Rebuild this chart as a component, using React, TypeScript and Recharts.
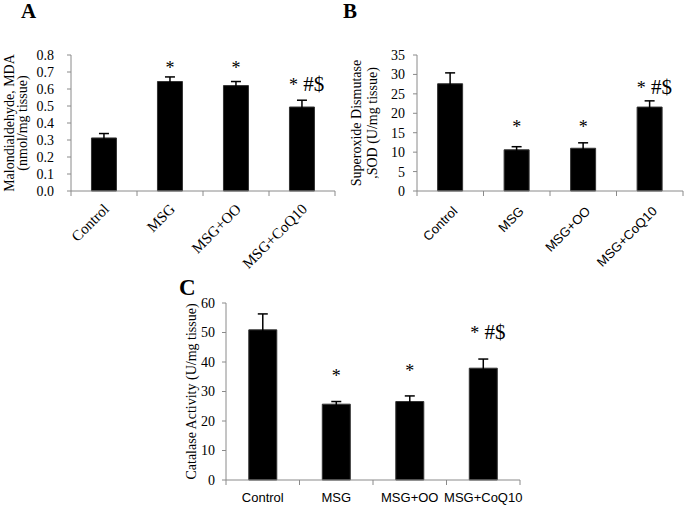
import React from 'react'
import { BarChart, Bar, XAxis, YAxis, ErrorBar, ReferenceDot } from 'recharts'

const groups = ['Control', 'MSG', 'MSG+OO', 'MSG+CoQ10']

// A: malondialdehyde (nmol/mg tissue)
const mdaMean = [0.312, 0.644, 0.62, 0.494]
const mdaSem = [0.026, 0.027, 0.024, 0.04]
// B: superoxide dismutase (U/mg tissue)
const sodMean = [27.6, 10.6, 11.0, 21.6]
const sodSem = [2.8, 0.8, 1.4, 1.6]
// C: catalase (U/mg tissue)
const catMean = [50.9, 25.7, 26.6, 37.9]
const catSem = [5.4, 0.9, 1.9, 3.1]

// significance marks, and the axis value each one sits at
const sigText = ['', '*', '*', '* #$']
const mdaSigAt = [0, 0.74, 0.74, 0.64]
const sodSigAt = [0, 17.2, 17.2, 27.3]
const catSigAt = [0, 36.2, 37.9, 51]

const mdaTicks = [0, 0.1, 0.2, 0.3, 0.4, 0.5, 0.6, 0.7, 0.8]
const sodTicks = [0, 5, 10, 15, 20, 25, 30, 35]
const catTicks = [0, 10, 20, 30, 40, 50, 60]

const SERIF = '"Liberation Serif", "Times New Roman", serif'
const SANS = '"Liberation Sans", Arial, sans-serif'
const GRAY = '#8a8a8a'

const mdaData = groups.map((g, i) => ({ name: g, mean: mdaMean[i], sem: mdaSem[i] }))
const sodData = groups.map((g, i) => ({ name: g, mean: sodMean[i], sem: sodSem[i] }))
const catData = groups.map((g, i) => ({ name: g, mean: catMean[i], sem: catSem[i] }))

function SigMark(props: any) {
  const { viewBox, text } = props
  if (!viewBox || !text) return null
  const cx = viewBox.x + viewBox.width / 2
  const cy = viewBox.y + viewBox.height / 2
  if (text === '*') {
    return (
      <text x={cx} y={cy + 9} textAnchor="middle" fontFamily={SERIF} fontSize={18} fill="#000" stroke="none">
        *
      </text>
    )
  }
  return (
    <text x={cx + 4.5} y={cy + 9} textAnchor="middle" fontFamily={SERIF} fill="#000" stroke="none">
      <tspan fontSize={18}>*</tspan>
      <tspan fontSize={21}>{' #$'}</tspan>
    </text>
  )
}

// category tick: boundary tick marks (Excel style) + label
function GroupTick(props: any) {
  const { x, y, payload, kind } = props
  const half = payload.offset || 33
  const last = payload.index === groups.length - 1
  let label
  if (kind === 'serif') {
    const px = x + 6
    const py = y + 19
    label = (
      <text x={px} y={py} transform={`rotate(-45 ${px} ${py})`} textAnchor="end" fontFamily={SERIF} fontSize={15} fill="#000">
        {payload.value}
      </text>
    )
  } else if (kind === 'sans') {
    const px = x + 8
    const py = y + 21
    label = (
      <text x={px} y={py} transform={`rotate(-45 ${px} ${py})`} textAnchor="end" fontFamily={SANS} fontSize={13} fill="#000">
        {payload.value}
      </text>
    )
  } else {
    label = (
      <text x={x} y={y + 22} textAnchor="middle" fontFamily={SANS} fontSize={13} fill="#000">
        {payload.value}
      </text>
    )
  }
  return (
    <g>
      <line x1={x - half} x2={x - half} y1={y} y2={y + 5} stroke={GRAY} />
      {last && <line x1={x + half} x2={x + half} y1={y} y2={y + 5} stroke={GRAY} />}
      {label}
    </g>
  )
}

function AxisTitle(props: any) {
  const { viewBox, lines, xs } = props
  if (!viewBox) return null
  const cy = viewBox.y + viewBox.height / 2
  return (
    <g>
      {lines.map((t: string, i: number) => (
        <text
          key={i}
          x={xs[i]}
          y={cy}
          transform={`rotate(-90 ${xs[i]} ${cy})`}
          textAnchor="middle"
          fontFamily={SERIF}
          fontSize={14}
          fill="#000"
        >
          {t}
        </text>
      ))}
    </g>
  )
}

function Panel(props: any) {
  const { data, ticks, fmt, sigAt, width, height, margin, yWidth, tickMargin, xHeight, kind, title } = props
  return (
    <BarChart width={width} height={height} data={data} margin={margin} barCategoryGap="31%">
      <XAxis
        dataKey="name"
        height={xHeight}
        axisLine={{ stroke: GRAY }}
        tickLine={false}
        tickSize={0}
        tickMargin={0}
        interval={0}
        tick={<GroupTick kind={kind} />}
      />
      <YAxis
        width={yWidth}
        domain={[ticks[0], ticks[ticks.length - 1]]}
        ticks={ticks}
        interval={0}
        tickFormatter={fmt}
        axisLine={{ stroke: GRAY }}
        tickLine={{ stroke: GRAY }}
        tickSize={4}
        tickMargin={tickMargin}
        tick={{ fontFamily: SERIF, fontSize: 14, fill: '#000' }}
        label={<AxisTitle lines={title.lines} xs={title.xs} />}
      />
      <Bar dataKey="mean" fill="#000" stroke="#333" isAnimationActive={false}>
        <ErrorBar dataKey="sem" width={5} stroke="#000" strokeWidth={1.5} direction="y" />
      </Bar>
      {groups.map((g, i) =>
        sigText[i] ? (
          <ReferenceDot key={g} x={g} y={sigAt[i]} r={0} fill="none" stroke="none" label={<SigMark text={sigText[i]} />} />
        ) : null
      )}
    </BarChart>
  )
}

export default function App() {
  return (
    <div style={{ position: 'absolute', left: 0, top: 0, width: 685, height: 505, background: '#fff', overflow: 'hidden' }}>
      <div style={{ position: 'absolute', left: 0, top: 0 }}>
        <Panel
          data={mdaData}
          ticks={mdaTicks}
          fmt={(v: number) => v.toFixed(1)}
          sigAt={mdaSigAt}
          width={340}
          height={285}
          margin={{ top: 55, right: 5, bottom: 25, left: 0 }}
          yWidth={71}
          tickMargin={13}
          xHeight={69}
          kind="serif"
          title={{ lines: ['Malondialdehyde, MDA', '(nmol/mg tissue)'], xs: [14, 27] }}
        />
      </div>
      <div style={{ position: 'absolute', left: 340, top: 0 }}>
        <Panel
          data={sodData}
          ticks={sodTicks}
          fmt={(v: number) => String(v)}
          sigAt={sodSigAt}
          width={345}
          height={285}
          margin={{ top: 55, right: 2, bottom: 25, left: 0 }}
          yWidth={77}
          tickMargin={8}
          xHeight={69}
          kind="sans"
          title={{ lines: ['Superoxide Dismutase', ',SOD (U/mg tissue)'], xs: [21, 37] }}
        />
      </div>
      <div style={{ position: 'absolute', left: 170, top: 270 }}>
        <Panel
          data={catData}
          ticks={catTicks}
          fmt={(v: number) => String(v)}
          sigAt={catSigAt}
          width={360}
          height={235}
          margin={{ top: 33, right: 10, bottom: 0, left: 0 }}
          yWidth={56}
          tickMargin={7}
          xHeight={25}
          kind="flat"
          title={{ lines: ['Catalase Activity (U/mg tissue)'], xs: [26] }}
        />
      </div>
      <svg width={685} height={505} style={{ position: 'absolute', left: 0, top: 0, pointerEvents: 'none' }}>
        <text x={21} y={18} fontFamily={SERIF} fontWeight="bold" fontSize={21} fill="#000">A</text>
        <text x={343} y={18} fontFamily={SERIF} fontWeight="bold" fontSize={21} fill="#000">B</text>
        <text x={179} y={295} fontFamily={SERIF} fontWeight="bold" fontSize={23} fill="#000">C</text>
      </svg>
    </div>
  )
}
